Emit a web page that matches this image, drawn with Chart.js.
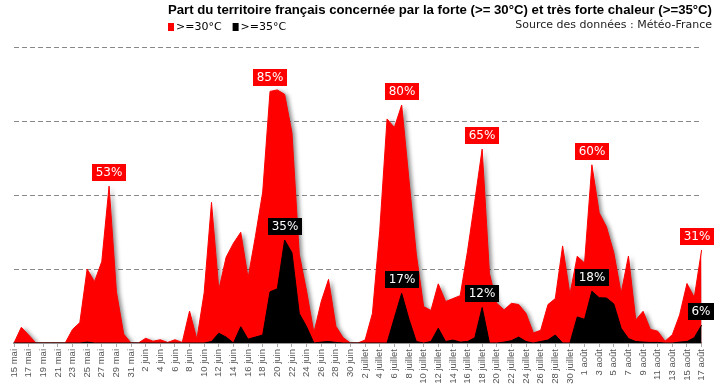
<!DOCTYPE html>
<html><head><meta charset="utf-8">
<script src="https://cdn.jsdelivr.net/npm/chart.js@4/dist/chart.umd.min.js"></script>
<style>html,body{margin:0;padding:0;background:#fff}#wrap{width:715px;height:387px;position:relative}</style>
</head><body><div id="wrap"><canvas id="c" width="715" height="387"></canvas></div>
<script>
const days = [
 '15 mai','16 mai','17 mai','18 mai','19 mai','20 mai','21 mai','22 mai','23 mai','24 mai','25 mai','26 mai','27 mai','28 mai','29 mai','30 mai','31 mai',
 '1 juin','2 juin','3 juin','4 juin','5 juin','6 juin','7 juin','8 juin','9 juin','10 juin','11 juin','12 juin','13 juin','14 juin','15 juin','16 juin','17 juin','18 juin','19 juin','20 juin','21 juin','22 juin','23 juin','24 juin','25 juin','26 juin','27 juin','28 juin','29 juin','30 juin',
 '1 juillet','2 juillet','3 juillet','4 juillet','5 juillet','6 juillet','7 juillet','8 juillet','9 juillet','10 juillet','11 juillet','12 juillet','13 juillet','14 juillet','15 juillet','16 juillet','17 juillet','18 juillet','19 juillet','20 juillet','21 juillet','22 juillet','23 juillet','24 juillet','25 juillet','26 juillet','27 juillet','28 juillet','29 juillet','30 juillet','31 juillet',
 '1 août','2 août','3 août','4 août','5 août','6 août','7 août','8 août','9 août','10 août','11 août','12 août','13 août','14 août','15 août','16 août','17 août'
];
const over30 = [
 0,5.3,2.7,0,0,0,0,0,4.6,6.9,25,20.7,27.5,53,17.3,3,0,
 0,1.6,0.6,1.1,0.2,1.1,0.2,10.8,1.3,17,47.5,18,29,33.7,37.4,22,36,51,85,85.5,84,71,30,17.5,3.5,14,21.5,5.7,1.8,0,
 0,1,10,38,75.7,72.8,80.4,55,30,12.3,11,20,14,15,16,31,48,65.5,23.5,13.4,11.2,13.4,13,10,3.4,4.3,13,15,32.8,16.5,29.3,
 27,60.2,44,39.2,30.5,16.8,29.4,7.8,10.7,4.6,4,0.6,2.8,9.5,20.1,15.4,31.4
];
const over35 = [
 0,0,0,0,0,0,0,0,0,0,0.3,0,0,0,0,0,0,
 0,0,0,0,0,0,0,0,0,0,0.5,3.3,2,0,5.5,1.3,2,2.7,17.3,18.3,34.8,30.5,10,5.5,0,0.3,0.5,0.2,0,0,
 0,0,0,0,0,8.5,16.8,8,0.5,0,0.5,5,0.5,1,0.3,0.5,1.8,12,0,0,0.3,0.8,2,0.5,0,0.5,1,2.7,0,0,8.8,
 8,17.5,15.3,15.2,13.2,5,1.5,0.5,0.3,0.2,0.2,0,0,0.3,0.5,1.8,6
];
const yTicks = [0,25,50,75,100];
const redPeakIdx = [13,35,53,64,79,94];
const redPeakText = ['53%','85%','80%','65%','60%','31%'];
const blackPeakIdx = [37,53,64,79,94];
const blackPeakText = ['35%','17%','12%','18%','6%'];
const titleText = 'Part du territoire français concernée par la forte (>= 30°C) et très forte chaleur (>=35°C)';
const sourceText = 'Source des données : Météo-France';
const legendItems = [['>=30°C','#ff0000'],['>=35°C','#000000']];

const shadowPlugin = {
  id:'shadowFill',
  beforeDatasetsDraw(chart){
    const c = chart.ctx; c.save();
    c.shadowColor='rgba(0,0,0,0.45)'; c.shadowBlur=4; c.shadowOffsetX=3; c.shadowOffsetY=1;
    chart.$shadowOn = true;
  },
  beforeDatasetDraw(chart,args){
    if (chart.$shadowOn && args.index === 1){ chart.ctx.restore(); chart.$shadowOn=false; }
  },
  afterDatasetsDraw(chart){
    if (chart.$shadowOn){ chart.ctx.restore(); chart.$shadowOn=false; }
  }
};

function drawTag(ctx, x, y, text, bg){
  ctx.save();
  ctx.font = '12px "DejaVu Sans"';
  const w = Math.round(ctx.measureText(text).width + 7), h = 17;
  let left = Math.round(x - w/2);
  if (left + w > 714) left = 714 - w;
  const top = Math.round(y - 5 - h);
  ctx.fillStyle = bg; ctx.fillRect(left, top, w, h);
  ctx.fillStyle = '#fff'; ctx.textAlign='center'; ctx.textBaseline='middle';
  ctx.fillText(text, left + w/2, top + h/2 + 0.5);
  ctx.restore();
}

const tagPlugin = {
  id:'tags',
  afterDatasetsDraw(chart){
    const ctx = chart.ctx, xs = chart.scales.x, ys = chart.scales.y;
    redPeakIdx.forEach((k,j)=> drawTag(ctx, xs.getPixelForValue(k), ys.getPixelForValue(over30[k]), redPeakText[j], '#ff0000'));
    blackPeakIdx.forEach((k,j)=> drawTag(ctx, xs.getPixelForValue(k), ys.getPixelForValue(over35[k]), blackPeakText[j], '#000000'));
  }
};

const headerPlugin = {
  id:'header',
  afterDraw(chart){
    const ctx = chart.ctx;
    ctx.save();
    ctx.font = 'bold 11px "Liberation Sans"';
    const w11 = ctx.measureText(titleText).width;
    const fs = 11 * 544 / w11;
    ctx.font = 'bold ' + fs.toFixed(2) + 'px "Liberation Sans"';
    ctx.fillStyle = '#000'; ctx.textAlign='right'; ctx.textBaseline='middle';
    ctx.fillText(titleText, 712, 10);
    ctx.font = '11px "DejaVu Sans"';
    ctx.fillStyle = '#222';
    ctx.fillText(sourceText, 712, 25);
    // legend
    ctx.textAlign='left';
    let x = 168;
    legendItems.forEach(([t,c])=>{
      ctx.fillStyle = c; ctx.fillRect(x, 23, 6, 8);
      ctx.fillStyle = '#000'; ctx.fillText(t, x + 8, 27.5);
      x += 8 + ctx.measureText(t).width + 11;
    });
    ctx.restore();
  }
};

new Chart(document.getElementById('c'), {
  type:'line',
  data:{ labels: days, datasets:[
    {label:'>=35°C', data: over35, backgroundColor:'#000000', borderColor:'#000000', borderWidth:1, fill:'origin', pointRadius:0, tension:0},
    {label:'>=30°C', data: over30, backgroundColor:'#ff0000', borderColor:'#ff0000', borderWidth:1, fill:'origin', pointRadius:0, tension:0}
  ]},
  options:{
    responsive:false, animation:false, devicePixelRatio:1,
    layout:{padding:{left:14,right:9,top:47,bottom:0}},
    plugins:{legend:{display:false}, title:{display:false}, tooltip:{enabled:false}},
    scales:{
      x:{
        offset:false,
        grid:{drawOnChartArea:false, tickLength:4, color:(c)=> (c.index % 2 ? 'rgba(0,0,0,0)' : '#aaaaaa')},
        border:{color:'#999999', width:2},
        ticks:{autoSkip:false, maxRotation:90, minRotation:90, padding:2, color:'#555555',
          font:{family:'"Liberation Sans"', size:9.5},
          callback:(v,i)=> (i % 2 === 0 ? days[i] : '')},
        afterFit:(s)=>{ s.height = 44; }
      },
      y:{
        min:0, max:100,
        afterBuildTicks:(s)=>{ s.ticks = yTicks.map(v=>({value:v})); },
        ticks:{display:false},
        grid:{color:'#888888', lineWidth:1, drawTicks:false},
        border:{display:false, dash:[5,3]}
      }
    }
  },
  plugins:[shadowPlugin, tagPlugin, headerPlugin]
});
</script></body></html>
